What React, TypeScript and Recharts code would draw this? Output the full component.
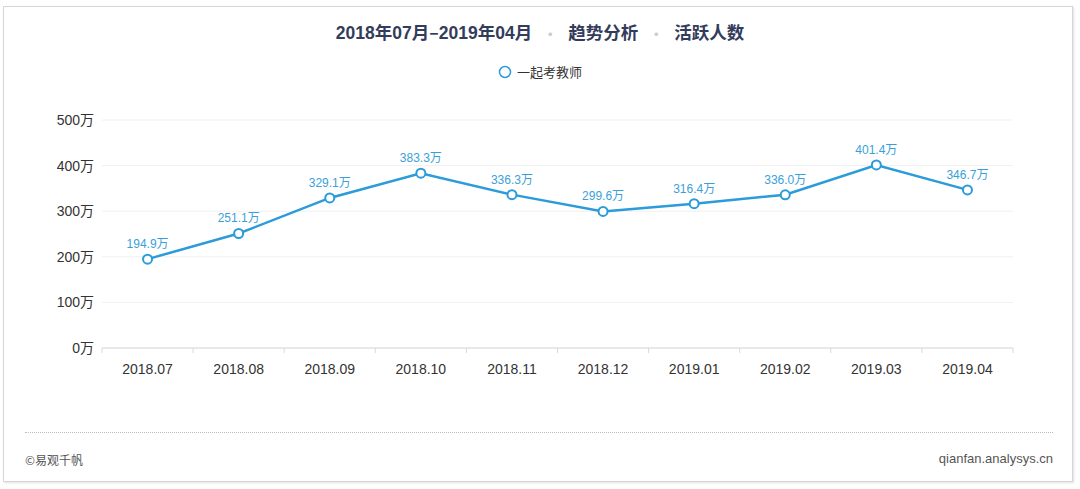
import { CartesianGrid, LabelList, Line, LineChart, XAxis, YAxis } from "recharts";

const months = [
  "2018.07", "2018.08", "2018.09", "2018.10", "2018.11",
  "2018.12", "2019.01", "2019.02", "2019.03", "2019.04",
];
const activeUsers = [194.9, 251.1, 329.1, 383.3, 336.3, 299.6, 316.4, 336.0, 401.4, 346.7];
const yTicks = [0, 100, 200, 300, 400, 500];
const seriesName = "一起考教师";

const data = months.map((m, i) => ({ month: m, value: activeUsers[i] }));

const W = 1080;
const H = 489;
const xAxisHeight = 30;
const margin = { top: 120, right: 67, bottom: 141 - xAxisHeight, left: 42 };
const yAxisWidth = 60;
const band = (W - margin.left - margin.right - yAxisWidth) / months.length;
const FONT = '"Liberation Sans", "Noto Sans CJK SC", sans-serif';
const CJK = '"Noto Sans CJK SC", sans-serif';
const BLUE = "#2b9bd9";

function MonthTick(props: any) {
  const { x, y, payload, index } = props;
  const last = index === months.length - 1;
  return (
    <g>
      <line x1={x - band / 2} x2={x - band / 2} y1={y - 8} y2={y - 3} stroke="#d9d9d9" />
      {last && <line x1={x + band / 2} x2={x + band / 2} y1={y - 8} y2={y - 3} stroke="#d9d9d9" />}
      <text x={x} y={y + 18} textAnchor="middle" fill="#333" fontSize={14} fontFamily={FONT}>
        {payload.value}
      </text>
    </g>
  );
}

const Dot = () => <span style={{ color: "#ccc", margin: "0 11px", fontSize: 14 }}>•</span>;
const Num = ({ children }: { children: string }) => <span style={{ fontFamily: FONT, fontWeight: 600 }}>{children}</span>;

export default function App() {
  return (
    <div style={{ position: "absolute", left: 0, top: 0, width: W, height: H, background: "#fff", fontFamily: FONT }}>
      <div
        style={{
          position: "absolute", left: 3, top: 6, width: 1068, height: 474,
          border: "1px solid #d6d6d6", boxShadow: "1px 1px 2px rgba(0,0,0,0.12)",
        }}
      />
      <div
        style={{
          position: "absolute", left: 0, top: 19, width: W, textAlign: "center",
          fontSize: 17.5, fontWeight: 600, color: "#333c5b", fontFamily: CJK,
        }}
      >
        <Num>2018</Num>年<Num>07</Num>月–<Num>2019</Num>年<Num>04</Num>月
        <Dot />趋势分析<Dot />活跃人数
      </div>
      <div
        style={{
          position: "absolute", left: 0, top: 62, width: W, display: "flex", justifyContent: "center",
          alignItems: "center", fontFamily: CJK, fontSize: 13, color: "#333",
        }}
      >
        <svg width={14} height={14} style={{ marginRight: 5 }}>
          <circle cx={7} cy={7} r={5.5} fill="#fff" stroke={BLUE} strokeWidth={1.5} />
        </svg>
        {seriesName}
      </div>
      <div style={{ position: "absolute", left: 0, top: 0 }}>
        <LineChart width={W} height={H} data={data} margin={margin}>
          <CartesianGrid vertical={false} stroke="#f0f0f0" />
          <XAxis
            dataKey="month"
            height={xAxisHeight}
            stroke="#d9d9d9"
            tickLine={false}
            tick={MonthTick}
            interval={0}
            padding={{ left: band / 2, right: band / 2 }}
          />
          <YAxis
            width={yAxisWidth}
            domain={[0, 500]}
            ticks={yTicks}
            axisLine={false}
            tickLine={false}
            tick={{ fill: "#333", fontSize: 14, fontFamily: FONT }}
            tickFormatter={(v) => `${v}万`}
          />
          <Line
            dataKey="value"
            name={seriesName}
            stroke={BLUE}
            strokeWidth={2.5}
            dot={{ r: 4.5, fill: "#fff", stroke: BLUE, strokeWidth: 2 }}
            isAnimationActive={false}
          >
            <LabelList
              dataKey="value"
              position="top"
              offset={11}
              fill="#3a9fd9"
              fontSize={12}
              fontFamily={FONT}
              formatter={(v: any) => `${Number(v).toFixed(1)}万`}
            />
          </Line>
        </LineChart>
      </div>
      <div style={{ position: "absolute", left: 25, top: 432, width: 1028, borderTop: "1px dotted #bbb" }} />
      <div style={{ position: "absolute", left: 25, top: 451, fontSize: 12, color: "#555", fontFamily: CJK }}>
        ©易观千帆
      </div>
      <div style={{ position: "absolute", right: 27, top: 451, fontSize: 13, color: "#555" }}>
        qianfan.analysys.cn
      </div>
    </div>
  );
}
